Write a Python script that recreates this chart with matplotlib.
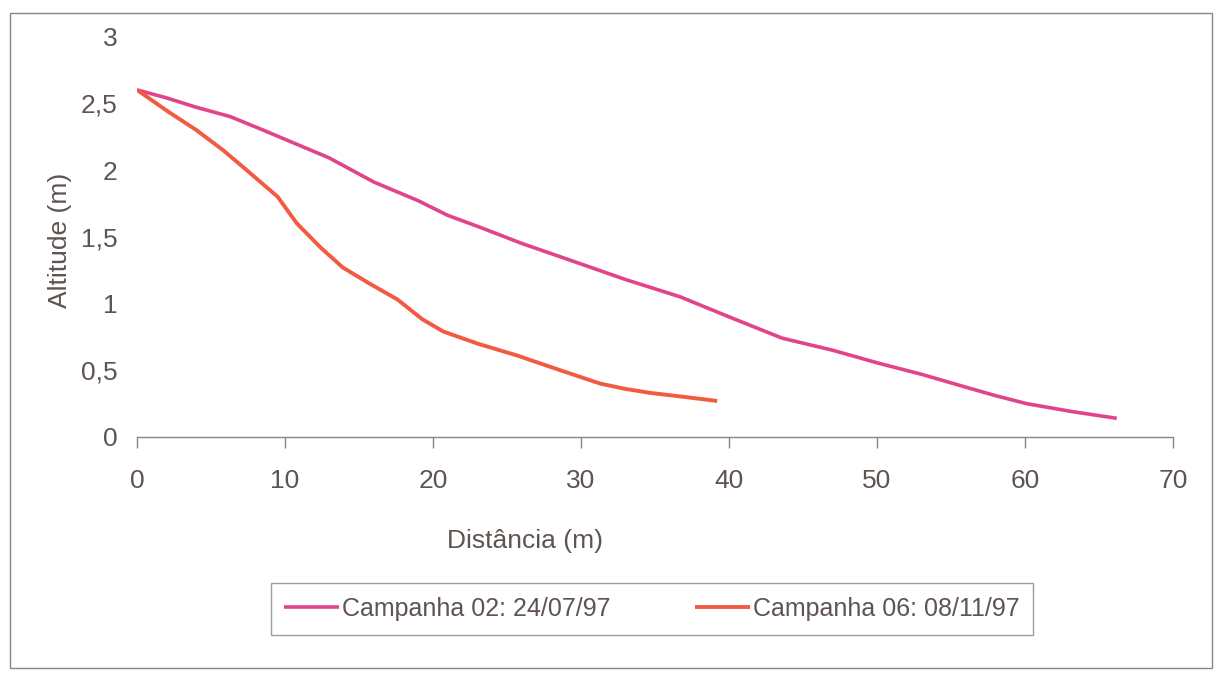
import matplotlib
matplotlib.use("Agg")
import matplotlib.pyplot as plt
from matplotlib.patches import Rectangle

# Perfil de praia: distância (m) x altitude (m)
dist_c02 = [0, 2, 4, 6.3, 8.5, 11.5, 13, 16, 19, 21, 23.2, 26, 29.9, 33, 36.7, 40,
            43.6, 47, 50.2, 53, 56.1, 58, 60.1, 63.2, 66.2]
alt_c02 = [2.6, 2.54, 2.47, 2.40, 2.30, 2.16, 2.09, 1.91, 1.77, 1.66, 1.57, 1.45,
           1.30, 1.18, 1.05, 0.90, 0.74, 0.65, 0.55, 0.47, 0.37, 0.31, 0.25, 0.19, 0.14]

dist_c06 = [0, 2.2, 4, 5.8, 7.4, 9.5, 10.8, 12.4, 13.9, 15.7, 17.6, 19.3, 20.7, 23,
            25.7, 28.6, 31.3, 33, 34.7, 37, 39.2]
alt_c06 = [2.6, 2.43, 2.30, 2.15, 2.0, 1.80, 1.60, 1.42, 1.27, 1.15, 1.03, 0.88,
           0.79, 0.70, 0.61, 0.50, 0.40, 0.36, 0.33, 0.30, 0.27]

label_c02 = "Campanha 02: 24/07/97"
label_c06 = "Campanha 06: 08/11/97"

x_ticks = [0, 10, 20, 30, 40, 50, 60, 70]
y_ticks = [0, 0.5, 1, 1.5, 2, 2.5, 3]
y_tick_labels = ["0", "0,5", "1", "1,5", "2", "2,5", "3"]

plt.rcParams["font.family"] = ["Liberation Sans", "DejaVu Sans"]
text_color = "#5e5450"
frame_color = "#8a8580"

W, H = 1220, 677
fig = plt.figure(figsize=(W / 100, H / 100), dpi=100)
ax = fig.add_axes([137 / W, 1 - 437 / H, (1173 - 137) / W, (437 - 36.5) / H])

ax.plot(dist_c02, alt_c02, color="#E2448C", lw=2.6, label=label_c02,
        solid_joinstyle="round", solid_capstyle="butt")
ax.plot(dist_c06, alt_c06, color="#F25A42", lw=2.8, label=label_c06,
        solid_joinstyle="round", solid_capstyle="butt")

ax.set_xlim(0, 70)
ax.set_ylim(0, 3)
ax.set_xticks(x_ticks)
ax.set_xticklabels([str(t) for t in x_ticks])
ax.set_yticks(y_ticks)
ax.set_yticklabels(y_tick_labels)

for side in ("top", "right", "left"):
    ax.spines[side].set_visible(False)
ax.spines["bottom"].set_color(frame_color)
ax.spines["bottom"].set_linewidth(1.0)

ax.tick_params(axis="x", direction="out", length=8, width=1.0, color=frame_color,
               labelsize=19, labelcolor=text_color, pad=15)
ax.tick_params(axis="y", length=0, labelsize=19, labelcolor=text_color, pad=14)

# rótulos dos eixos
fig.text(525 / W, 1 - 541 / H, "Distância (m)", fontsize=19, color=text_color,
         ha="center", va="center")
fig.text(60 / W, 1 - 240 / H, "Altitude (m)", fontsize=19, color=text_color,
         ha="center", va="center", rotation=90)

leg = fig.legend(loc="center", bbox_to_anchor=(652 / W, 1 - 609 / H), ncol=2,
                 fontsize=18, frameon=True, fancybox=False, handlelength=2.2,
                 handletextpad=0.1, columnspacing=3.4, borderpad=0.55)
leg.get_frame().set_edgecolor(frame_color)
leg.get_frame().set_linewidth(1.0)
for t in leg.get_texts():
    t.set_color(text_color)

# moldura externa
fig.patches.append(Rectangle((10 / W, 1 - 668 / H), 1202 / W, 655 / H,
                             transform=fig.transFigure, fill=False,
                             edgecolor=frame_color, linewidth=1.0))

fig.savefig("out.png", dpi=100)
